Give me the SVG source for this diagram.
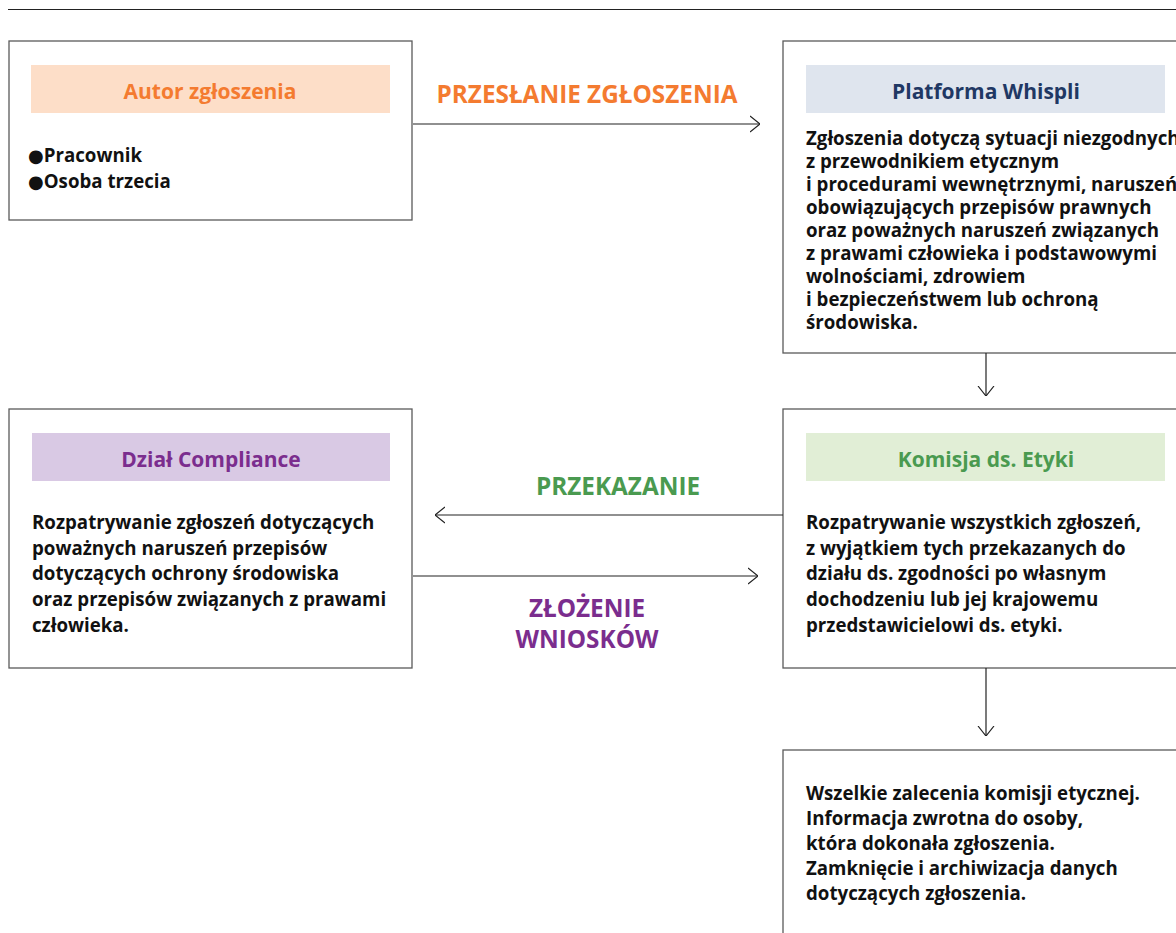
<svg xmlns="http://www.w3.org/2000/svg" width="1176" height="933" viewBox="0 0 1176 933">
<style>
.box{fill:#fff;stroke:#5a5a5a;stroke-width:1.3}
.hd{font-family:"Open Sans","Noto Sans",sans-serif;font-weight:bold;font-size:21px;text-anchor:middle}
.tx{font-family:"Open Sans","Noto Sans",sans-serif;font-weight:bold;font-size:18.7px;fill:#111}
.bl{font-family:"DejaVu Sans",sans-serif;font-size:18px}
.lbl{font-family:"Open Sans","Noto Sans",sans-serif;font-weight:bold;font-size:24.3px;text-anchor:middle}
.con{stroke:#222;stroke-width:1.2;fill:none}
</style>
<defs>
<marker id="ah" viewBox="0 0 10 20" refX="10" refY="10" markerWidth="10" markerHeight="20" markerUnits="userSpaceOnUse" orient="auto">
<path d="M0,2 L10,10 L0,18" fill="none" stroke="#222" stroke-width="1.2"/>
</marker>
</defs>
<rect width="1176" height="933" fill="#fff"/>
<line x1="8" y1="9.5" x2="1176" y2="9.5" stroke="#222" stroke-width="1.2"/>

<g id="autor">
<rect class="box" x="9" y="41" width="403" height="179"/>
<rect x="31" y="65" width="359" height="48" fill="#FDDEC8"/>
<text class="hd" x="210" y="98.5" fill="#F47B30">Autor zgłoszenia</text>
<text class="tx" x="28" y="161.5"><tspan class="bl">●</tspan>Pracownik</text>
<text class="tx" x="28" y="188"><tspan class="bl">●</tspan>Osoba trzecia</text>
</g>

<g id="platforma">
<rect class="box" x="783" y="41" width="400" height="312"/>
<rect x="806" y="65" width="359" height="48" fill="#DFE5EE"/>
<text class="hd" x="986" y="98.5" fill="#1F3864">Platforma Whispli</text>
<text class="tx">
<tspan x="806" y="144.5">Zgłoszenia dotyczą sytuacji niezgodnych</tspan>
<tspan x="806" y="167.5">z przewodnikiem etycznym</tspan>
<tspan x="806" y="190.5">i procedurami wewnętrznymi, naruszeń</tspan>
<tspan x="806" y="213.5">obowiązujących przepisów prawnych</tspan>
<tspan x="806" y="236.5">oraz poważnych naruszeń związanych</tspan>
<tspan x="806" y="259.5">z prawami człowieka i podstawowymi</tspan>
<tspan x="806" y="282.5">wolnościami, zdrowiem</tspan>
<tspan x="806" y="305.5">i bezpieczeństwem lub ochroną</tspan>
<tspan x="806" y="328.5">środowiska.</tspan>
</text>
</g>

<g id="compliance">
<rect class="box" x="9" y="409" width="403" height="259"/>
<rect x="32" y="433" width="358" height="48" fill="#D9C9E4"/>
<text class="hd" x="211" y="466.5" fill="#7B2D8E">Dział Compliance</text>
<text class="tx">
<tspan x="32" y="529">Rozpatrywanie zgłoszeń dotyczących</tspan>
<tspan x="32" y="555">poważnych naruszeń przepisów</tspan>
<tspan x="32" y="580">dotyczących ochrony środowiska</tspan>
<tspan x="32" y="606">oraz przepisów związanych z prawami</tspan>
<tspan x="32" y="632">człowieka.</tspan>
</text>
</g>

<g id="komisja">
<rect class="box" x="783" y="409" width="400" height="259"/>
<rect x="806" y="433" width="359" height="48" fill="#E1EED6"/>
<text class="hd" x="986" y="466.5" fill="#4A9A50">Komisja ds. Etyki</text>
<text class="tx">
<tspan x="806" y="529">Rozpatrywanie wszystkich zgłoszeń,</tspan>
<tspan x="806" y="555">z wyjątkiem tych przekazanych do</tspan>
<tspan x="806" y="580">działu ds. zgodności po własnym</tspan>
<tspan x="806" y="606">dochodzeniu lub jej krajowemu</tspan>
<tspan x="806" y="632">przedstawicielowi ds. etyki.</tspan>
</text>
</g>

<g id="zamkniecie">
<rect class="box" x="783" y="750" width="400" height="200"/>
<text class="tx">
<tspan x="806" y="800">Wszelkie zalecenia komisji etycznej.</tspan>
<tspan x="806" y="825">Informacja zwrotna do osoby,</tspan>
<tspan x="806" y="850">która dokonała zgłoszenia.</tspan>
<tspan x="806" y="875">Zamknięcie i archiwizacja danych</tspan>
<tspan x="806" y="900">dotyczących zgłoszenia.</tspan>
</text>
</g>

<g id="connectors">
<line class="con" x1="413" y1="124" x2="760" y2="124" marker-end="url(#ah)"/>
<text class="lbl" x="587" y="103" fill="#F47B30">PRZESŁANIE ZGŁOSZENIA</text>
<line class="con" x1="986" y1="353" x2="986" y2="396" marker-end="url(#ah)"/>
<line class="con" x1="783" y1="515" x2="435" y2="515" marker-end="url(#ah)"/>
<text class="lbl" x="618" y="495" fill="#4A9A50">PRZEKAZANIE</text>
<line class="con" x1="413" y1="576" x2="758" y2="576" marker-end="url(#ah)"/>
<text class="lbl" x="587" y="617" fill="#7B2D8E">ZŁOŻENIE</text>
<text class="lbl" x="587" y="648" fill="#7B2D8E">WNIOSKÓW</text>
<line class="con" x1="986" y1="668" x2="986" y2="736" marker-end="url(#ah)"/>
</g>
</svg>
